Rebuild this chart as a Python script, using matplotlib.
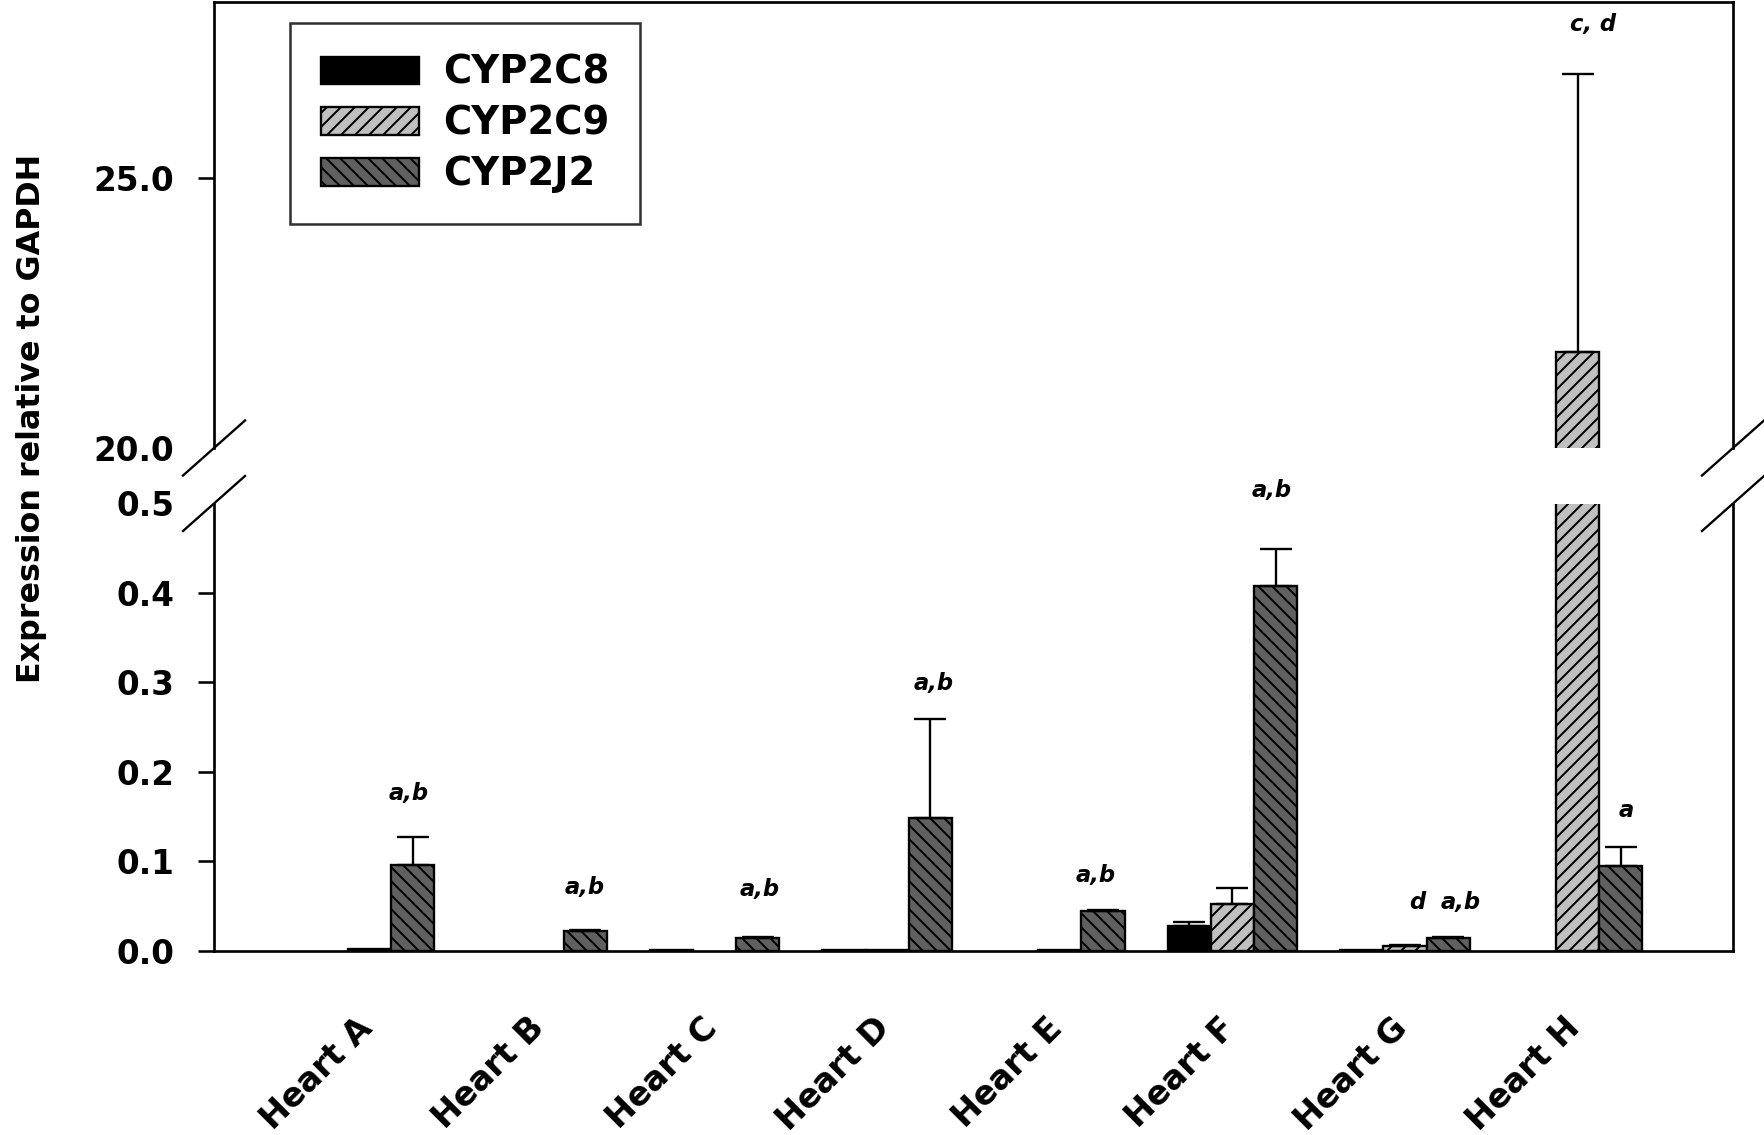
import numpy as np
import matplotlib
matplotlib.use("Agg")
import matplotlib.pyplot as plt
from matplotlib.patches import Patch
from matplotlib.transforms import ScaledTranslation

nan = np.nan

hearts = ["Heart A", "Heart B", "Heart C", "Heart D",
          "Heart E", "Heart F", "Heart G", "Heart H"]

# expression relative to GAPDH (nan = no bar drawn)
cyp2c8 = [nan, nan, 0.001, 0.001, nan, 0.027, 0.001, nan]
cyp2c8_err = [0, 0, 0, 0, 0, 0.005, 0, 0]
cyp2c9 = [0.002, nan, nan, 0.001, 0.001, 0.052, 0.005, 21.78]
cyp2c9_err = [0, 0, 0, 0, 0, 0.018, 0.001, 5.15]
cyp2j2 = [0.0955, 0.022, 0.014, 0.148, 0.044, 0.408, 0.014, 0.095]
cyp2j2_err = [0.031, 0.001, 0.001, 0.111, 0.001, 0.041, 0.001, 0.021]

# significance letters: x in group units, y in data units
sig_text = ["a,b", "a,b", "a,b", "a,b", "a,b", "a,b", "d", "a,b", "a", "c, d"]
sig_x = [0.23, 1.245, 2.26, 3.27, 4.21, 5.23, 6.07, 6.32, 7.28, 7.09]
sig_y = [0.176, 0.070, 0.068, 0.299, 0.084, 0.514, 0.054, 0.054, 0.157, 27.85]

DPI = 168
W, H = 1764, 1135
plt.rcParams["font.family"] = ["DejaVu Sans"]
plt.rcParams["font.weight"] = "bold"
plt.rcParams["hatch.linewidth"] = 0.85
plt.rcParams["hatch.color"] = "black"

fig = plt.figure(figsize=(W / DPI, H / DPI), dpi=DPI)
left, width = 214 / W, 1519 / W
ax_low = fig.add_axes([left, 184.5 / H, width, 447 / H])
ax_top = fig.add_axes([left, 687 / H, width, 446 / H], sharex=ax_low)

series = [
    (cyp2c8, cyp2c8_err, "black", None, "CYP2C8"),
    (cyp2c9, cyp2c9_err, "#c0c0c0", "////", "CYP2C9"),
    (cyp2j2, cyp2j2_err, "#606060", "\\\\\\\\", "CYP2J2"),
]
bw = 0.25
x = np.arange(len(hearts))

for ax in (ax_low, ax_top):
    for i, (vals, errs, col, hatch, name) in enumerate(series):
        xs = x + (i - 1) * bw
        v = np.array(vals, dtype=float)
        e = np.array(errs, dtype=float)
        ok = ~np.isnan(v)
        ax.bar(xs[ok], v[ok], bw, color=col, edgecolor="black",
               linewidth=1.0, hatch=hatch, zorder=2)
        has = ok & (e > 0)
        ax.errorbar(xs[has], v[has], yerr=[np.zeros(has.sum()), e[has]],
                    fmt="none", ecolor="black", elinewidth=1.0,
                    capsize=6.9, capthick=1.0, zorder=3)
    for sp in ax.spines.values():
        sp.set_linewidth(1.15)
    ax.tick_params(axis="y", direction="out", length=6.9, width=1.1,
                   pad=10.0, labelsize=14, right=False)

ax_low.set_xlim(-0.9, 7.9)
ax_low.set_ylim(0, 0.5)
ax_top.set_ylim(20, 28.27)

ax_low.spines["top"].set_visible(False)
ax_top.spines["bottom"].set_visible(False)

ax_low.set_yticks([0, 0.1, 0.2, 0.3, 0.4, 0.5])
ax_low.set_yticklabels(["0.0", "0.1", "0.2", "0.3", "0.4", "0.5"])
ax_low.yaxis.get_major_ticks()[-1].tick1line.set_visible(False)
ax_top.set_yticks([20, 25])
ax_top.set_yticklabels(["20.0", "25.0"])
ax_top.yaxis.get_major_ticks()[0].tick1line.set_visible(False)

ax_top.tick_params(axis="x", bottom=False, labelbottom=False)
ax_low.set_xticks(x)
ax_low.set_xticklabels(hearts, rotation=45, ha="right",
                       rotation_mode="anchor", fontsize=14.3)
ax_low.tick_params(axis="x", length=0, pad=26)
shift = ScaledTranslation(-6 / 72, 0, fig.dpi_scale_trans)
for lab in ax_low.get_xticklabels():
    lab.set_transform(lab.get_transform() + shift)

# significance letters
for t, sx, sy in zip(sig_text, sig_x, sig_y):
    target = ax_top if sy > 1 else ax_low
    target.text(sx, sy, t, ha="center", va="center", fontsize=9.7,
                style="italic", fontweight="bold", clip_on=False)

# axis break marks
fw, fh = fig.get_size_inches() * DPI
for ax, yb in ((ax_low, 1.0), (ax_top, 0.0)):
    pos = ax.get_position()
    dx = 31 / (pos.width * fw)
    dy = 27.5 / (pos.height * fh)
    for xb in (0.0, 1.0):
        ax.plot([xb - dx, xb + dx], [yb - dy, yb + dy], color="black",
                lw=1.0, transform=ax.transAxes, clip_on=False)

fig.text(32 / W, 1 - 418 / H, "Expression relative to GAPDH",
         rotation=90, ha="center", va="center", fontsize=13.6,
         fontweight="bold")

handles = [Patch(facecolor=c, edgecolor="black", hatch=h, linewidth=1.0,
                 label=n) for _, _, c, h, n in series]
leg = fig.legend(handles=handles, loc="upper left",
                 bbox_to_anchor=(290 / W, 1 - 23 / H), borderaxespad=0,
                 fontsize=16.5, handlelength=2.55, handleheight=0.73,
                 handletextpad=0.62, labelspacing=0.33, borderpad=0.8,
                 fancybox=False, frameon=True)
leg.get_frame().set_edgecolor("black")
leg.get_frame().set_linewidth(1.1)

fig.savefig("out.png", dpi=DPI)
